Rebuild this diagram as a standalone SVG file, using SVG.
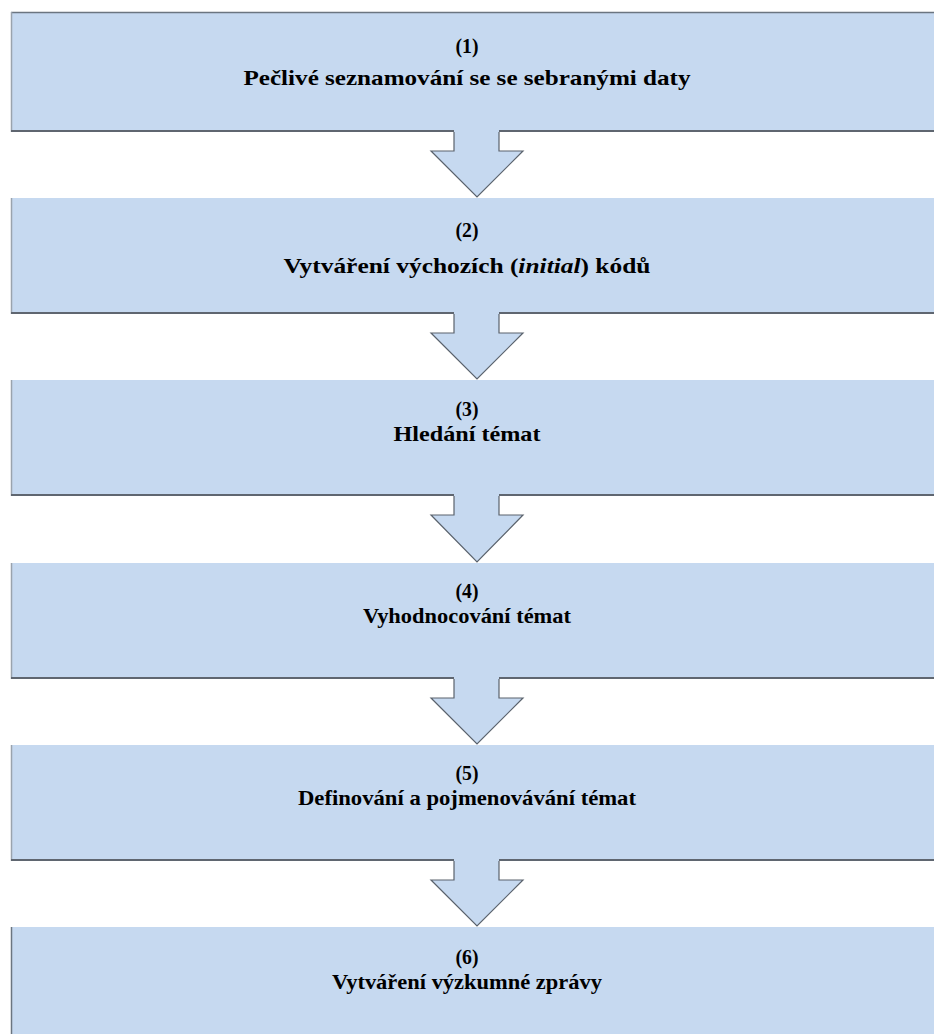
<svg xmlns="http://www.w3.org/2000/svg" width="934" height="1034" viewBox="0 0 934 1034">
<style>
.box{fill:#c6d9f0;}
.top{stroke:#6b7580;stroke-width:1.5;fill:none;}
.left{stroke:#9aa3ad;stroke-width:1.5;fill:none;}
.bot{stroke:#5f6670;stroke-width:2;fill:none;}
.arr{fill:#c6d9f0;stroke:#5a626c;stroke-width:1.2;stroke-linejoin:miter;}
text{font-family:"Liberation Serif","DejaVu Serif","Times New Roman",serif;font-weight:bold;font-size:22px;fill:#000;text-anchor:middle;}
</style>
<rect width="934" height="1034" fill="#fff"/>
<g id="connectors">
<path class="arr" d="M454,131 V151 H431 L477,197 L523,151 H499 V131"/>
<path class="arr" d="M454,313 V333 H431 L477,379 L523,333 H499 V313"/>
<path class="arr" d="M454,495 V515 H431 L477,562 L523,515 H499 V495"/>
<path class="arr" d="M454,678 V698 H431 L477,744 L523,698 H499 V678"/>
<path class="arr" d="M454,860 V880 H431 L477,926 L523,880 H499 V860"/>
</g>
<g id="node1">
<rect class="box" x="11" y="12" width="930" height="120"/>
<path class="top" d="M11,12.5 H934"/><path class="left" d="M11.5,12 V132"/><path class="bot" d="M11,131 H454 M499,131 H934"/>
<text x="467" y="53" textLength="23" lengthAdjust="spacingAndGlyphs">(1)</text>
<text x="467" y="85" textLength="447" lengthAdjust="spacingAndGlyphs">Pečlivé seznamování se se sebranými daty</text>
</g>
<g id="node2">
<rect class="box" x="11" y="198" width="930" height="116"/>
<path class="left" d="M11.5,198 V314"/><path class="bot" d="M11,313 H454 M499,313 H934"/>
<text x="467" y="237" textLength="23" lengthAdjust="spacingAndGlyphs">(2)</text>
<text x="467" y="273" textLength="367" lengthAdjust="spacingAndGlyphs">Vytváření výchozích (<tspan font-style="italic">initial</tspan>) kódů</text>
</g>
<g id="node3">
<rect class="box" x="11" y="380" width="930" height="116"/>
<path class="left" d="M11.5,380 V496"/><path class="bot" d="M11,495 H454 M499,495 H934"/>
<text x="467" y="416" textLength="23" lengthAdjust="spacingAndGlyphs">(3)</text>
<text x="467" y="441" textLength="147" lengthAdjust="spacingAndGlyphs">Hledání témat</text>
</g>
<g id="node4">
<rect class="box" x="11" y="563" width="930" height="116"/>
<path class="left" d="M11.5,563 V679"/><path class="bot" d="M11,678 H454 M499,678 H934"/>
<text x="467" y="598" textLength="23" lengthAdjust="spacingAndGlyphs">(4)</text>
<text x="467" y="623" textLength="208" lengthAdjust="spacingAndGlyphs">Vyhodnocování témat</text>
</g>
<g id="node5">
<rect class="box" x="11" y="745" width="930" height="116"/>
<path class="left" d="M11.5,745 V861"/><path class="bot" d="M11,860 H454 M499,860 H934"/>
<text x="467" y="780" textLength="23" lengthAdjust="spacingAndGlyphs">(5)</text>
<text x="467" y="805" textLength="338" lengthAdjust="spacingAndGlyphs">Definování a pojmenovávání témat</text>
</g>
<g id="node6">
<rect class="box" x="11" y="927" width="930" height="110"/>
<path class="left" d="M11.5,927 V1034" style="stroke:#6b7580"/>
<text x="467" y="964" textLength="23" lengthAdjust="spacingAndGlyphs">(6)</text>
<text x="467" y="989" textLength="270" lengthAdjust="spacingAndGlyphs">Vytváření výzkumné zprávy</text>
</g>
</svg>
